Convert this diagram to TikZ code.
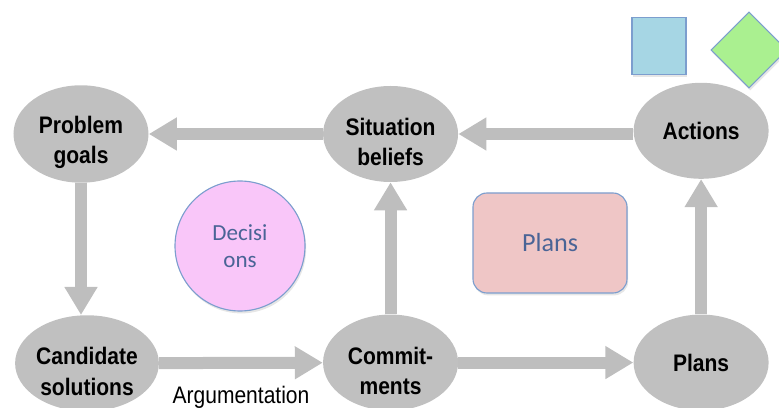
\documentclass[tikz,border=0pt]{standalone}
\usepackage{fontspec}
\setmainfont[FakeStretch=0.88]{Liberation Sans}
\newfontfamily\calibri{Carlito}
\usepackage{tikz}
\usetikzlibrary{arrows.meta,positioning,shadows,shapes}

\definecolor{stategray}{RGB}{192,192,192}
\definecolor{arrowgray}{RGB}{190,190,190}
\definecolor{rimblue}{RGB}{124,158,206}
\definecolor{textblue}{RGB}{74,100,150}
\definecolor{decpink}{RGB}{249,198,249}
\definecolor{planrose}{RGB}{239,198,198}
\definecolor{sqblue}{RGB}{166,214,228}
\definecolor{diagreen}{RGB}{170,240,144}

% pushes a two-line label a little down inside its ellipse
\newcommand{\topgap}{\rule{0pt}{0.84cm}}

\begin{document}
\begin{tikzpicture}
\tikzstyle{state} = [ellipse, fill=stategray, minimum width=3.375cm, minimum height=2.4cm, inner sep=0pt, align=center, font=\fontsize{17}{21.5}\selectfont\bfseries]
\tikzstyle{flow} = [draw=arrowgray, line width=0.3cm, -{Triangle[length=0.7cm,width=0.78cm]}]
\tikzstyle{soft} = [draw=rimblue, line width=0.8pt, text=textblue, drop shadow={opacity=0.2, shadow xshift=0.03cm, shadow yshift=-0.06cm}]

\useasboundingbox (0,0) rectangle (19.475,-10.2);

\node [state] at (2.025,-3.35) (prob) {\topgap Problem\\goals};
\node [state, right = 4.35cm of prob] (sit) {\topgap Situation\\beliefs};
\node [state, right = 4.375cm of sit, yshift=0.08cm] (act) {Actions};
\node [state, below = 3.3cm of prob, xshift=0.15cm] (cand) {\topgap Candidate\\solutions};
\node [state, below = 3.3cm of sit] (comm) {\topgap Commit-\\ments};
\node [state, below = 3.3cm of act, yshift=-0.08cm] (plan) {Plans};

\node [soft, circle, fill=decpink, minimum size=3.25cm, align=center, font=\calibri\fontsize{16.4}{19.2}\selectfont] at (6.0,-6.15) (dec) {Decisi\\ons};
\node [soft, rectangle, rounded corners=0.35cm, fill=planrose, minimum width=3.85cm, minimum height=2.5cm, font=\calibri\fontsize{18.6}{22}\selectfont] at (13.75,-6.075) (planbox) {Plans};

\node [soft, rectangle, fill=sqblue, minimum width=1.35cm, minimum height=1.425cm] at (16.475,-1.15) (square) {};
\node [soft, rectangle, rotate=45, fill=diagreen, minimum size=1.34cm] at (18.725,-1.25) (diamond) {};

\draw [flow] (sit) -- (prob);
\draw [flow] (act.west |- sit) -- (sit);
\draw [flow] (prob.south) -- (prob.south |- cand.north);
\draw [flow] (cand) -- node[below=0.32cm, font=\fontsize{17}{21.5}\selectfont]{Argumentation} (comm);
\draw [flow] (comm) -- (sit);
\draw [flow] (comm) -- (plan.west |- comm);
\draw [flow] (plan) -- (act);
\end{tikzpicture}
\end{document}
